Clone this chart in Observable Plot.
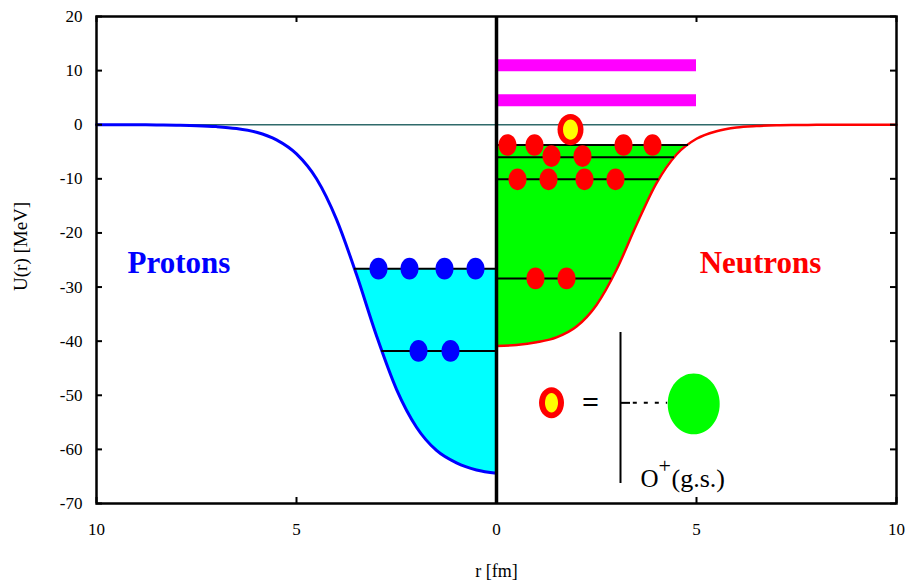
<!DOCTYPE html>
<html><head><meta charset="utf-8">
<script src="https://cdn.jsdelivr.net/npm/d3@7"></script>
<script src="https://cdn.jsdelivr.net/npm/@observablehq/plot@0.6"></script>
<style>body{margin:0;background:#fff} #chart svg{display:block}</style>
</head><body><div id="chart"></div>
<script>
// radius grid [fm]
const radius = [0,0.5,1,1.5,2,2.5,3,3.5,4,4.5,5,5.5,6,6.5,7,7.5,8,8.5,9,9.5,10];
// potential depths U(r) [MeV]
const protonU  = [-64.4,-63.8,-62.5,-60.2,-55.9,-48.9,-39.0,-27.7,-17.5,-10.0,-5.4,-2.8,-1.4,-0.7,-0.35,-0.17,-0.09,-0.04,-0.02,-0.01,0];
const neutronU = [-40.9,-40.7,-40.2,-39.3,-37.3,-33.3,-26.8,-18.5,-10.8,-5.5,-2.6,-1.2,-0.5,-0.23,-0.1,-0.05,-0.02,-0.01,0,0,0];
// single-particle levels: energy and radius where they meet the well
const protonLevelE  = [-26.6, -41.8];
const protonLevelR  = [3.55, 2.87];
const neutronLevelE = [-3.75, -6.0, -10.1, -28.4];
const neutronLevelR = [4.8, 4.45, 4.06, 2.88];
// nucleons
const protonDotR  = [2.95, 2.175, 1.3, 0.525, 1.95, 1.15];
const protonDotE  = [-26.6, -26.6, -26.6, -26.6, -41.8, -41.8];
const neutronDotR = [0.275, 0.95, 3.175, 3.9, 1.375, 2.15, 0.525, 1.3, 2.2, 2.975, 0.975, 1.75];
const neutronDotE = [-3.75, -3.75, -3.75, -3.75, -5.8, -5.8, -10.1, -10.1, -10.1, -10.1, -28.4, -28.4];
// unbound (continuum) levels
const unboundE = [11, 4.5];
const unboundR = [0, 5];
// loosely bound neutron
const haloR = [1.85];
const haloE = [-0.9];
// inset annotation (r, U)
const insetRingR = [1.375], insetRingE = [-51.4];
const insetEqR = [2.35], insetEqE = [-51.4];
const insetBarR = [3.1], insetBarE = [-38.4, -66.3];
const insetDashR = [3.1, 3.35, 3.42, 4.28], insetDashE = [-51.4];
const insetCoreR = [4.93], insetCoreE = [-51.6];
const insetTextR = [3.6], insetTextE = [-65.4];
// axes
const xTicks = [-10, -5, 0, 5, 10];
const yTicks = [-70, -60, -50, -40, -30, -20, -10, 0, 10, 20];
const xLabel = "r [fm]";
const yLabel = "U(r) [MeV]";

const W = 906, H = 586, mL = 96, mR = 10, mT = 16, mB = 83;
const pw = W - mL - mR, ph = H - mT - mB, tick = 6;

function ellipse(aspect) {
  const k = 0.5523;
  return {draw(ctx, size) {
    const rx = Math.sqrt(size / Math.PI), ry = rx * aspect;
    ctx.moveTo(rx, 0);
    ctx.bezierCurveTo(rx, k * ry, k * rx, ry, 0, ry);
    ctx.bezierCurveTo(-k * rx, ry, -rx, k * ry, -rx, 0);
    ctx.bezierCurveTo(-rx, -k * ry, -k * rx, -ry, 0, -ry);
    ctx.bezierCurveTo(k * rx, -ry, rx, -k * ry, rx, 0);
    ctx.closePath();
  }};
}

const protonPts = radius.map((r, i) => ({x: -r, u: protonU[i]})).sort((a, b) => a.x - b.x);
const neutronPts = radius.map((r, i) => ({x: r, u: neutronU[i]}));

function fillPts(side, U, rEdge, level) {
  const pts = radius.map((r, i) => ({x: side * r, u: U[i]})).filter(d => Math.abs(d.x) < rEdge);
  pts.push({x: side * rEdge, u: level});
  return pts.sort((a, b) => a.x - b.x);
}
const cyanPts = fillPts(-1, protonU, protonLevelR[0], protonLevelE[0]);
const greenPts = fillPts(1, neutronU, neutronLevelR[0], neutronLevelE[0]);

const pLevels = protonLevelE.map((e, i) => ({e, r: protonLevelR[i]}));
const nLevels = neutronLevelE.map((e, i) => ({e, r: neutronLevelR[i]}));
const pDots = protonDotR.map((r, i) => ({x: -r, e: protonDotE[i]}));
const nDots = neutronDotR.map((r, i) => ({x: r, e: neutronDotE[i]}));

const serif = "Liberation Serif";

const chart = Plot.plot({
  width: W, height: H,
  marginLeft: mL, marginRight: mR, marginTop: mT, marginBottom: mB,
  x: {domain: [-10, 10]},
  y: {domain: [-70, 20]},
  style: {fontFamily: serif, fontSize: "17px", color: "#000", background: "#fff"},
  marks: [
    Plot.areaY(cyanPts, {x: "x", y1: "u", y2: () => protonLevelE[0], fill: "#00ffff", curve: "monotone-x"}),
    Plot.areaY(greenPts, {x: "x", y1: "u", y2: () => neutronLevelE[0], fill: "#00ff00", curve: "monotone-x"}),
    Plot.ruleY([0], {stroke: "#2f6a6a", strokeWidth: 1.5}),
    Plot.ruleY(unboundE, {x1: unboundR[0], x2: unboundR[1], stroke: "#ff00ff", strokeWidth: 12}),
    Plot.line(protonPts, {x: "x", y: "u", stroke: "#0000ff", strokeWidth: 3, curve: "monotone-x"}),
    Plot.line(neutronPts, {x: "x", y: "u", stroke: "#ff0000", strokeWidth: 2.5, curve: "monotone-x"}),
    Plot.ruleY(pLevels, {y: "e", x1: 0, x2: d => -d.r, stroke: "#000", strokeWidth: 2}),
    Plot.ruleY(nLevels, {y: "e", x1: 0, x2: "r", stroke: "#000", strokeWidth: 2}),
    Plot.ruleX([0], {stroke: "#000", strokeWidth: 3.5}),
    Plot.dot(pDots, {x: "x", y: "e", r: 9, symbol: ellipse(1.2), fill: "#0000ff"}),
    Plot.dot(nDots, {x: "x", y: "e", r: 9, symbol: ellipse(1.2), fill: "#ff0000"}),
    Plot.dot(haloR, {x: d => d, y: () => haloE[0], r: 13, symbol: ellipse(1.2), fill: "#ff0000"}),
    Plot.dot(haloR, {x: d => d, y: () => haloE[0], r: 7.5, symbol: ellipse(1.35), fill: "#ffff00"}),
    Plot.text(["Protons"], {x: () => -7.94, y: () => -25.5, fill: "#0000ff", fontSize: 31, fontWeight: "bold", fontFamily: serif}),
    Plot.text(["Neutrons"], {x: () => 6.6, y: () => -25.5, fill: "#ff0000", fontSize: 31, fontWeight: "bold", fontFamily: serif}),
    // inset
    Plot.dot(insetRingR, {x: d => d, y: () => insetRingE[0], r: 12.5, symbol: ellipse(1.24), fill: "#ff0000"}),
    Plot.dot(insetRingR, {x: d => d, y: () => insetRingE[0], r: 6.5, symbol: ellipse(1.5), fill: "#ffff00"}),
    Plot.text(["="], {x: () => insetEqR[0], y: () => insetEqE[0], fontSize: 30, fontWeight: "bold", fontFamily: serif}),
    Plot.ruleX(insetBarR, {y1: insetBarE[0], y2: insetBarE[1], stroke: "#000", strokeWidth: 2}),
    Plot.ruleY(insetDashE, {x1: insetDashR[0], x2: insetDashR[1], stroke: "#000", strokeWidth: 2}),
    Plot.ruleY(insetDashE, {x1: insetDashR[2], x2: insetDashR[3], stroke: "#000", strokeWidth: 2, strokeDasharray: "4,7"}),
    Plot.dot(insetCoreR, {x: d => d, y: () => insetCoreE[0], r: 26, symbol: ellipse(1.17), fill: "#00ff00"}),
    Plot.text(["O"], {x: () => insetTextR[0], y: () => insetTextE[0], textAnchor: "start", fontSize: 25, fontFamily: serif}),
    Plot.text(["+"], {x: () => insetTextR[0], y: () => insetTextE[0], dx: 18, dy: -13, textAnchor: "start", fontSize: 22, fontFamily: serif}),
    Plot.text(["(g.s.)"], {x: () => insetTextR[0], y: () => insetTextE[0], dx: 31, textAnchor: "start", fontSize: 26, fontFamily: serif, letterSpacing: 4}),
    // frame and inward ticks
    Plot.frame({stroke: "#000", strokeWidth: 2.5}),
    Plot.ruleY(yTicks, {insetRight: pw - tick, stroke: "#000", strokeWidth: 2}),
    Plot.ruleY(yTicks, {insetLeft: pw - tick, stroke: "#000", strokeWidth: 2}),
    Plot.ruleX(xTicks, {insetTop: ph - tick, stroke: "#000", strokeWidth: 2}),
    Plot.ruleX(xTicks, {insetBottom: ph - tick, stroke: "#000", strokeWidth: 2}),
    Plot.axisX(xTicks, {tickSize: 0, tickPadding: 19, tickFormat: d => String(Math.abs(d)), label: null, fontSize: 17}),
    Plot.axisY(yTicks, {tickSize: 0, tickPadding: 14, tickFormat: d => String(d), label: null, fontSize: 17}),
    Plot.text([xLabel], {frameAnchor: "bottom", dy: 73, fontSize: 18, fontFamily: serif}),
    Plot.text([yLabel], {frameAnchor: "left", dx: -76, dy: 31, rotate: -90, fontSize: 19, fontFamily: serif})
  ]
});
document.getElementById("chart").appendChild(chart);
</script>
</body></html>
